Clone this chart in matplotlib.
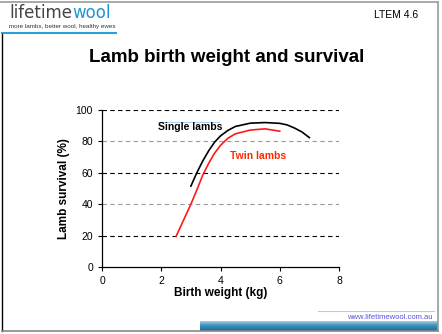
import matplotlib
matplotlib.use("Agg")
import matplotlib.pyplot as plt
from matplotlib.lines import Line2D
import numpy as np

plt.rcParams['font.family'] = ['Liberation Sans', 'DejaVu Sans']

single_x = [3.0, 3.2, 3.4, 3.6, 3.8, 4.0, 4.25, 4.5, 5.0, 5.5, 6.0, 6.25, 6.5, 6.75, 7.0]
single_y = [51.5, 60, 67.5, 74, 79.5, 83.5, 87, 89.5, 91.6, 92, 91.5, 90.5, 88.5, 86, 82.4]
twin_x = [2.5, 3.0, 3.2, 3.4, 3.6, 3.8, 4.0, 4.25, 4.5, 5.0, 5.5, 6.0]
twin_y = [19.5, 40, 49, 58.5, 66, 72.5, 77.5, 82, 84.8, 87.2, 88, 86.5]
x_ticks = [0, 2, 4, 6, 8]
y_ticks = [0, 20, 40, 60, 80, 100]

W, H = 442, 334
fig = plt.figure(figsize=(W / 100, H / 100), dpi=100)

def fx(px):
    return px / W

def fy(py):
    return 1 - py / H

# slide frame
fig.add_artist(Line2D([fx(0), fx(438)], [fy(2), fy(2)], color='#999999', lw=1.2))
fig.add_artist(Line2D([fx(438), fx(438)], [fy(2), fy(331)], color='#999999', lw=1.2))
fig.add_artist(Line2D([fx(2), fx(2)], [fy(33), fy(331)], color='black', lw=1.0))
fig.add_artist(Line2D([fx(2), fx(438)], [fy(331), fy(331)], color='#888888', lw=1.2))

# logo
t1 = fig.text(fx(9), fy(18), 'lifetime', fontsize=12, color='#444444', va='baseline', ha='left',
              family=['DejaVu Sans'])
fig.canvas.draw()
bb = t1.get_window_extent(renderer=fig.canvas.get_renderer())
fig.text(bb.x1 / W + 0.001, fy(18), 'wool', fontsize=12, color='#1f95d0', va='baseline', ha='left',
         family=['DejaVu Sans'])
fig.text(fx(9), fy(28), 'more lambs, better wool, healthy ewes', fontsize=4.5, color='#333333',
         va='baseline', ha='left')
fig.add_artist(Line2D([fx(2), fx(116)], [fy(33), fy(33)], color='#2a9fd6', lw=1.5))

fig.text(fx(418), fy(18), 'LTEM 4.6', fontsize=7.5, color='black', ha='right', va='baseline')

fig.text(fx(227), fy(57), 'Lamb birth weight and survival', fontsize=13.5, fontweight='bold',
         ha='center', va='center')

# footer
fig.add_artist(Line2D([fx(318), fx(434)], [fy(311), fy(311)], color='#b8cde0', lw=0.8))
fig.text(fx(433), fy(319), 'www.lifetimewool.com.au', fontsize=5.5, color='#5a4fd8', ha='right',
         va='baseline')
grad = np.linspace(0, 1, 20).reshape(-1, 1)
axg = fig.add_axes([fx(200), fy(331), fx(438) - fx(200), fy(321) - fy(331)])
axg.imshow(grad, aspect='auto', cmap=matplotlib.colors.LinearSegmentedColormap.from_list(
    'g', ['#b8d8ea', '#3a8fba', '#1a6e9e']), extent=[0, 1, 0, 1])
axg.axis('off')

# chart
ax = fig.add_axes([fx(102), fy(267), fx(339) - fx(102), fy(110) - fy(267)])
ax.set_xlim(0, 8)
ax.set_ylim(0, 100)
for yv in y_ticks[1:]:
    col = '#999999' if yv in (40, 80) else 'black'
    ax.axhline(yv, color=col, lw=0.8, ls=(0, (4, 3)), zorder=1)
ax.plot(single_x, single_y, color='black', lw=1.2, zorder=3, solid_joinstyle='round')
ax.plot(twin_x, twin_y, color='#ff1a1a', lw=1.2, zorder=3, solid_joinstyle='round')
ax.set_xticks(x_ticks)
ax.set_yticks(y_ticks)
ax.tick_params(labelsize=7.5, length=3, width=0.8, direction='out')
for s in ['top', 'right']:
    ax.spines[s].set_visible(False)
for s in ['left', 'bottom']:
    ax.spines[s].set_linewidth(0.9)
ax.set_xlabel('Birth weight (kg)', fontsize=8.5, fontweight='bold', labelpad=1)
ax.set_ylabel('Lamb survival (%)', fontsize=8.5, fontweight='bold', labelpad=4)
ax.plot([1.88, 3.95], [92.5, 92.5], color='#a8d0ec', lw=0.8, zorder=2)
ax.text(2.97, 89.3, 'Single lambs', fontsize=7.5, fontweight='bold', color='black', ha='center',
        va='center', zorder=4)
ax.text(5.28, 70.7, 'Twin lambs', fontsize=7.5, fontweight='bold', color='#ff2a00', ha='center',
        va='center')

fig.savefig('out.png', dpi=100)
